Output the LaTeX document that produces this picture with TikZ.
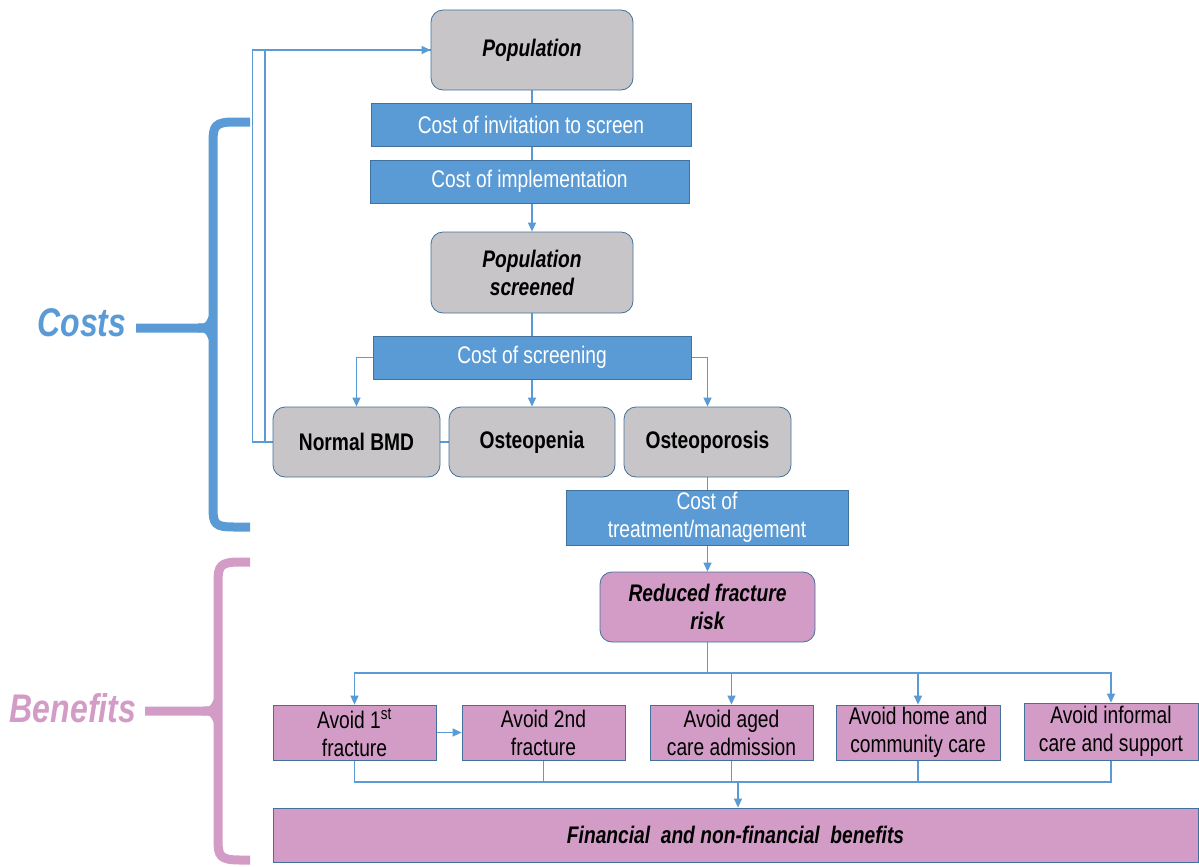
\documentclass[tikz,border=0pt]{standalone}
\usepackage{fontspec}
\setmainfont{Liberation Sans}[FakeStretch=0.8]
\usepackage{tikz}
\usetikzlibrary{arrows.meta}
\pgfdeclarelayer{bg}
\pgfsetlayers{bg,main}

\definecolor{costblue}{RGB}{91,155,213}
\definecolor{rimblue}{RGB}{65,113,156}
\definecolor{boxgrey}{RGB}{199,197,199}
\definecolor{gainpink}{RGB}{210,156,198}

\tikzset{
  every node/.style={align=center, inner sep=0pt, font=\fontsize{24}{28}\selectfont},
  bi/.style={font=\fontsize{24}{28}\selectfont\bfseries\itshape},
  grey/.style={draw=rimblue, fill=boxgrey, rounded corners=12pt, line width=0.8pt},
  cost/.style={draw=rimblue, fill=costblue, text=white, line width=0.8pt},
  gain/.style={draw=rimblue, fill=gainpink, line width=0.8pt},
  wire/.style={draw=costblue, line width=1.3pt},
  arr/.style={wire, -{Triangle[length=9pt,width=8pt]}},
  brace/.style={line width=9pt},
}

\begin{document}
\begin{tikzpicture}[x=1pt,y=-1pt]
  \useasboundingbox (0,0) rectangle (1199,867);

  \node (pop) [grey, bi, minimum width=202pt, minimum height=80pt] at (532,50) {Population};
  \node (inv) [cost, minimum width=320pt, minimum height=43pt] at (531,124.5) {Cost of invitation to screen};
  \node (impl) [cost, minimum width=319pt, minimum height=43pt] at (529.5,181.5) {Cost of implementation};
  \node (popscr) [grey, bi, minimum width=202pt, minimum height=81pt] at (532,272.5) {Population\\screened};
  \node (cscr) [cost, minimum width=318pt, minimum height=43pt] at (532,357.5) {Cost of screening};

    \node (nbmd) [grey, font=\fontsize{24}{28}\selectfont\bfseries, minimum width=167pt, minimum height=70pt] at (356.5,442) {Normal BMD};
    \node (openia) [grey, font=\fontsize{24}{28}\selectfont\bfseries, minimum width=166pt, minimum height=70pt] at (532,442) {Osteopenia};
    \node (oporo) [grey, font=\fontsize{24}{28}\selectfont\bfseries, minimum width=167pt, minimum height=70pt] at (707.5,442) {Osteoporosis};

  \node (treat) [cost, minimum width=282pt, minimum height=55pt] at (707,517.5) {Cost of\\treatment/management};
  \node (rfr) [grey, bi, fill=gainpink, minimum width=215pt, minimum height=70pt] at (707.5,607) {Reduced fracture\\risk};

    \node (a1) [gain, minimum width=163pt, minimum height=55pt] at (354.5,732.5) {Avoid 1\textsuperscript{st}\\fracture};
    \node (a2) [gain, minimum width=163pt, minimum height=55pt] at (543.5,732.5) {Avoid 2nd\\fracture};
    \node (a3) [gain, minimum width=163pt, minimum height=55pt] at (731.5,732.5) {Avoid aged\\care admission};
    \node (a4) [gain, minimum width=164pt, minimum height=55pt] at (918,732.5) {Avoid home and\\community care};
    \node (a5) [gain, minimum width=174pt, minimum height=57pt] at (1111,731.5) {Avoid informal\\care and support};

  \node (fin) [gain, bi, minimum width=925pt, minimum height=54pt] at (735.5,835) {Financial~ and non-financial~ benefits};

  \coordinate (split) at (707.5,673);
  \coordinate (join) at (738,782);

  \node (costs) [font=\fontsize{40}{40}\selectfont\bfseries\itshape, text=costblue] at (82,323) {Costs};
  \node (gains) [font=\fontsize{40}{40}\selectfont\bfseries\itshape, text=gainpink] at (73,708) {Benefits};

  % braces
  \draw[brace, costblue] (250,122) -- (234,122) .. controls (215,122) and (213,126) .. (213,142)
    -- (213,508) .. controls (213,524) and (215,527) .. (234,527) -- (250,527);
  \draw[brace, costblue] (136,328) -- (198,328) .. controls (208,328) .. (213,318);
  \draw[brace, costblue] (198,328) .. controls (208,328) .. (213,338);

  \draw[brace, gainpink] (250,562) -- (240,562) .. controls (220,562) and (218,566) .. (218,582)
    -- (218,840) .. controls (218,856) and (220,860) .. (240,860) -- (250,860);
  \draw[brace, gainpink] (145,711) -- (203,711) .. controls (213,711) .. (218,701);
  \draw[brace, gainpink] (203,711) .. controls (213,711) .. (218,721);

  \begin{pgfonlayer}{bg}
	  \draw (pop) edge[arr] (popscr);
	  \draw (popscr) edge[arr] (openia);
	  \draw[arr] (cscr.west) -| (nbmd.north);
	  \draw[arr] (cscr.east) -| (oporo.north);

	  \draw[arr] (nbmd.west) -- ++(-20,0) |- (pop.west);
	  \draw[wire] (openia.west) -- (265,442) |- (pop.west);

	  \draw (oporo) edge[arr] (rfr);

	  \draw[wire] (rfr.south) -- (split);
	  \draw[arr] (split) -| (a1.north);
	  \draw[arr] (split) -| (a3.north);
	  \draw[arr] (split) -| (a4.north);
	  \draw[arr] (split) -| (a5.north);
	  \draw (a1) edge[arr] (a2);

	  \draw[wire] (a1.south) |- (join); \draw[wire] (a2.south) |- (join);
	  \draw[wire] (a3.south) |- (join); \draw[wire] (a4.south) |- (join);
	  \draw[wire] (a5.south) |- (join);
	  \draw[arr] (join) -- (join |- fin.north);
  \end{pgfonlayer}
\end{tikzpicture}
\end{document}
